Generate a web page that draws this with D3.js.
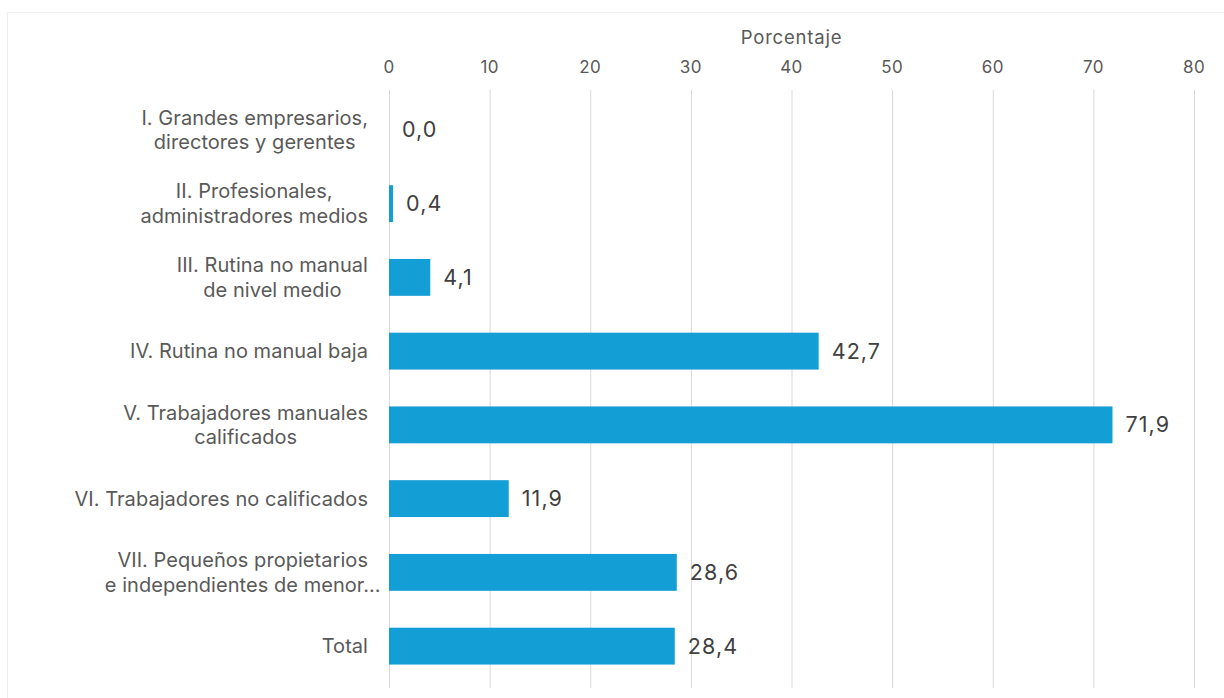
<!DOCTYPE html>
<html><head><meta charset="utf-8">
<script src="https://cdn.jsdelivr.net/npm/d3@7/dist/d3.min.js"></script>
<style>body{margin:0;background:#fff;}svg{display:block;}</style>
</head><body>
<svg id="c" width="1224" height="698"></svg>
<script>
const categories = [
  ["I. Grandes empresarios,", "directores y gerentes"],
  ["II. Profesionales,", "administradores medios"],
  ["III. Rutina no manual", "de nivel medio"],
  ["IV. Rutina no manual baja"],
  ["V. Trabajadores manuales", "calificados"],
  ["VI. Trabajadores no calificados"],
  ["VII. Pequeños propietarios", "e independientes de menor..."],
  ["Total"]
];
const values = [0.0, 0.4, 4.1, 42.7, 71.9, 11.9, 28.6, 28.4];
const ticks = [0, 10, 20, 30, 40, 50, 60, 70, 80];
const axisTitle = "Porcentaje";

const svg = d3.select("#c");
const font = "Inter, sans-serif";
svg.append("rect").attr("x", 7.5).attr("y", 12.5).attr("width", 1400).attr("height", 900)
  .attr("fill", "none").attr("stroke", "#efefef");

const x = d3.scaleLinear().domain([0, 80]).range([389, 1194]);
const y = d3.scaleBand().domain(d3.range(categories.length)).range([93, 683]).paddingInner(0.5).paddingOuter(0.25);

svg.append("g").selectAll("line").data(ticks).join("line")
  .attr("x1", d => x(d) + 0.5).attr("x2", d => x(d) + 0.5)
  .attr("y1", 90).attr("y2", 688)
  .attr("stroke", "#d9d9d9").attr("stroke-width", 1);

svg.append("g").selectAll("text").data(ticks).join("text")
  .attr("x", d => x(d)).attr("y", 73)
  .attr("text-anchor", "middle").attr("font-family", font).attr("font-size", 17)
  .attr("letter-spacing", 0.4)
  .attr("fill", "#595959").text(d => d);

svg.append("text").attr("x", (x(0) + x(80)) / 2).attr("y", 44)
  .attr("text-anchor", "middle").attr("font-family", font).attr("font-size", 18.5)
  .attr("letter-spacing", 0.8)
  .attr("fill", "#595959").text(axisTitle);

svg.append("g").selectAll("rect").data(values).join("rect")
  .attr("x", x(0)).attr("y", (d, i) => y(i))
  .attr("width", d => x(d) - x(0)).attr("height", y.bandwidth())
  .attr("fill", "#139ed6");

svg.append("g").selectAll("text").data(values).join("text")
  .attr("x", d => x(d) + 13).attr("y", (d, i) => y(i) + y.bandwidth() / 2)
  .attr("dy", "0.35em").attr("font-family", font).attr("font-size", 21.5)
  .attr("letter-spacing", 1.1)
  .attr("fill", "#404040").text(d => d.toFixed(1).replace(".", ","));

const lh = 24.5;
const right = 368;
const cg = svg.append("g");
categories.forEach((lines, i) => {
  const cy = y(i) + y.bandwidth() / 2;
  const n = lines.length;
  const ts = lines.map((s, k) => cg.append("text")
    .attr("font-family", font).attr("font-size", 20).attr("letter-spacing", 0.05)
    .attr("fill", "#595959").attr("text-anchor", "middle")
    .attr("y", cy + (k - (n - 1) / 2) * lh).attr("dy", "0.35em").text(s));
  const widths = ts.map(t => t.node().getComputedTextLength());
  const full = lines.map((s, k) => !s.endsWith("...") ? widths[k] : 0);
  const boxW = Math.max(...full);
  ts.forEach(t => t.attr("x", right - boxW / 2));
});
</script>
</body></html>
